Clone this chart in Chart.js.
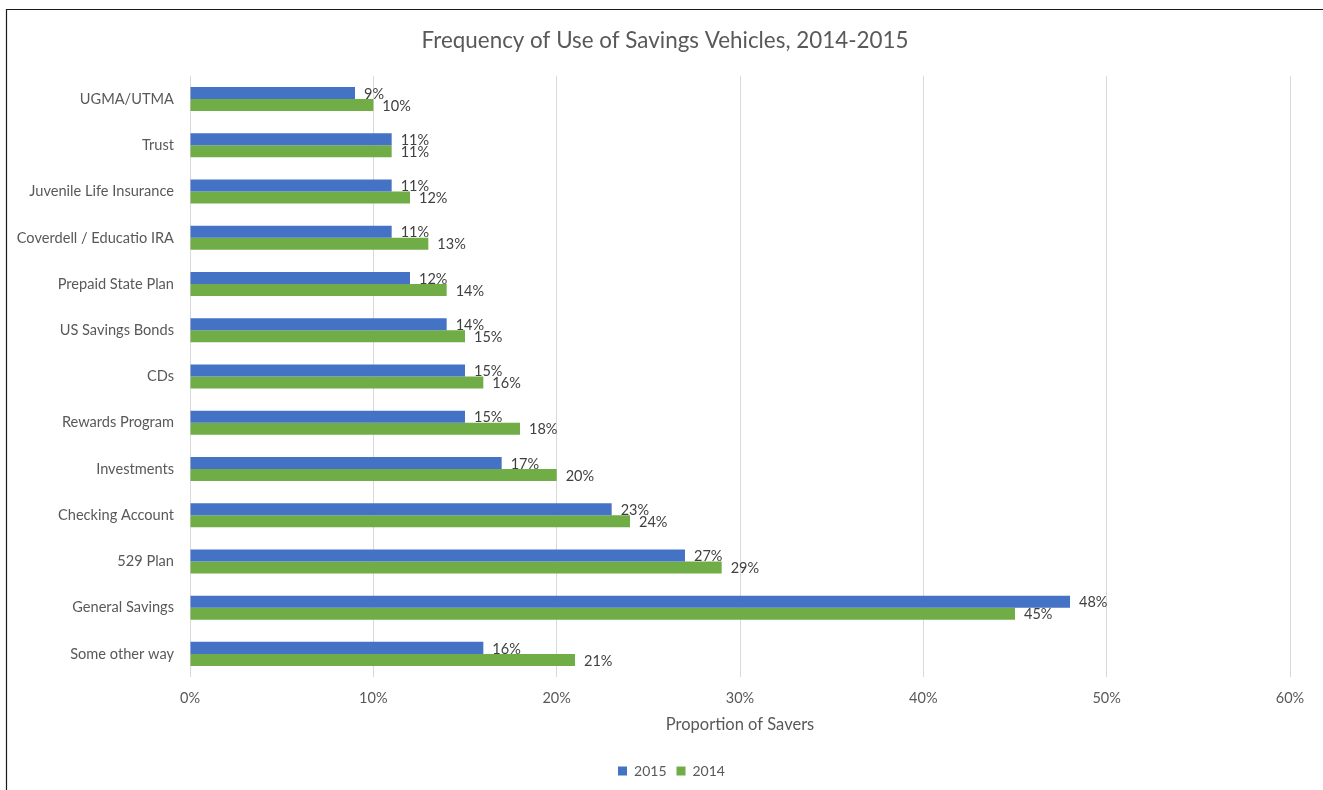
<!DOCTYPE html>
<html>
<head>
<meta charset="utf-8">
<script src="https://cdn.jsdelivr.net/npm/chart.js@4"></script>
<style>
  html, body { margin: 0; padding: 0; background: #fff; }
  #wrap { position: relative; width: 1323px; height: 790px; }
</style>
</head>
<body>
<div id="wrap"><canvas id="c" width="1323" height="790"></canvas></div>
<script>
const categories = [
  'UGMA/UTMA', 'Trust', 'Juvenile Life Insurance', 'Coverdell / Educatio IRA',
  'Prepaid State Plan', 'US Savings Bonds', 'CDs', 'Rewards Program',
  'Investments', 'Checking Account', '529 Plan', 'General Savings', 'Some other way'
];
const values2015 = [9, 11, 11, 11, 12, 14, 15, 15, 17, 23, 27, 48, 16];
const values2014 = [10, 11, 12, 13, 14, 15, 16, 18, 20, 24, 29, 45, 21];
const tickValues = [0, 10, 20, 30, 40, 50, 60];

const FONT = 'Lato, "Open Sans", sans-serif';

// Frame line along the left and top edges
const framePlugin = {
  id: 'frame',
  afterLayout(chart) {
    // center the title and legend inside the framed region
    if (chart.titleBlock) {
      chart.titleBlock.left = 7;
      chart.titleBlock.right = chart.width;
    }
    if (chart.legend) {
      chart.legend.left = 20;
      chart.legend.right = chart.width;
    }
  },
  beforeDraw(chart) {
    const ctx = chart.ctx;
    ctx.save();
    ctx.fillStyle = '#fff';
    ctx.fillRect(0, 0, chart.width, chart.height);
    ctx.strokeStyle = '#1a1a1a';
    ctx.lineWidth = 1.2;
    ctx.beginPath();
    ctx.moveTo(6.5, chart.height + 2);
    ctx.lineTo(6.5, 9.5);
    ctx.lineTo(chart.width + 2, 9.5);
    ctx.stroke();
    ctx.restore();
  }
};

// Value labels at the end of each bar
const valueLabelPlugin = {
  id: 'valueLabels',
  afterDatasetsDraw(chart) {
    const ctx = chart.ctx;
    ctx.save();
    ctx.font = '14.5px ' + FONT;
    ctx.fillStyle = '#404040';
    ctx.textAlign = 'left';
    ctx.textBaseline = 'middle';
    chart.data.datasets.forEach((ds, i) => {
      const meta = chart.getDatasetMeta(i);
      meta.data.forEach((bar, j) => {
        ctx.fillText(ds.data[j] + '%', bar.x + 9, bar.y + 1);
      });
    });
    ctx.restore();
  }
};

new Chart(document.getElementById('c'), {
  type: 'bar',
  data: {
    labels: categories,
    datasets: [
      { label: '2015', data: values2015, backgroundColor: '#4472C4', categoryPercentage: 0.52, barPercentage: 1.0 },
      { label: '2014', data: values2014, backgroundColor: '#70AD47', categoryPercentage: 0.52, barPercentage: 1.0 }
    ]
  },
  options: {
    indexAxis: 'y',
    responsive: false,
    animation: false,
    devicePixelRatio: 1,
    layout: { padding: { left: 0, right: 33, top: 0, bottom: 2 } },
    scales: {
      x: {
        min: 0, max: 60,
        afterBuildTicks(scale) { scale.ticks = tickValues.map(v => ({ value: v })); },
        afterFit(scale) { scale.height = 77; },
        grid: { color: '#d9d9d9', lineWidth: 1, drawTicks: false },
        border: { display: false },
        ticks: {
          padding: 13,
          color: '#595959',
          font: { family: FONT, size: 14.5 },
          callback: v => v + '%'
        },
        title: {
          display: true,
          text: 'Proportion of Savers',
          color: '#595959',
          font: { family: FONT, size: 16.5 },
          padding: { top: 4, bottom: 19 }
        }
      },
      y: {
        grid: { display: false, drawTicks: false },
        border: { display: false },
        afterFit(scale) { scale.width = 190; },
        ticks: {
          padding: 16,
          color: '#595959',
          font: { family: FONT, size: 14.6 }
        }
      }
    },
    plugins: {
      title: {
        display: true,
        text: 'Frequency of Use of Savings Vehicles, 2014-2015',
        color: '#595959',
        font: { family: FONT, size: 22.4, weight: 'normal' },
        padding: { top: 27, bottom: 22.1 }
      },
      legend: {
        position: 'bottom',
        labels: {
          boxWidth: 9,
          boxHeight: 9,
          padding: 10,
          color: '#595959',
          font: { family: FONT, size: 14 }
        }
      },
      tooltip: { enabled: false }
    }
  },
  plugins: [framePlugin, valueLabelPlugin]
});
</script>
</body>
</html>
